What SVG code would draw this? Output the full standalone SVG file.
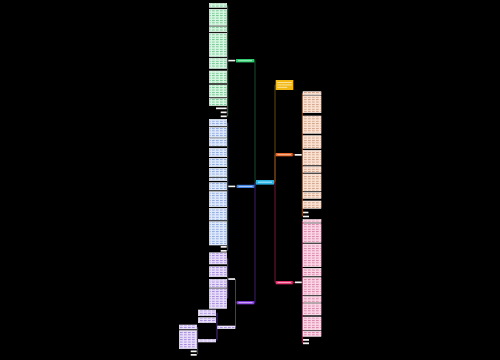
<svg xmlns="http://www.w3.org/2000/svg" width="500" height="360" viewBox="0 0 500 360">
<defs>
<pattern id="pg" width="4" height="2.4" patternUnits="userSpaceOnUse"><rect width="4" height="2.4" fill="#d8f6e2"/><rect y="0.8" width="2.7" height="0.9" fill="#6fc28f"/></pattern>
<pattern id="pb" width="4" height="2.4" patternUnits="userSpaceOnUse"><rect width="4" height="2.4" fill="#dfe9fb"/><rect y="0.8" width="2.7" height="0.9" fill="#8aa6dc"/></pattern>
<pattern id="pp" width="4" height="2.4" patternUnits="userSpaceOnUse"><rect width="4" height="2.4" fill="#e8def9"/><rect y="0.8" width="2.7" height="0.9" fill="#a086da"/></pattern>
<pattern id="po" width="4" height="2.4" patternUnits="userSpaceOnUse"><rect width="4" height="2.4" fill="#f9e2d3"/><rect y="0.8" width="2.7" height="0.9" fill="#cfa085"/></pattern>
<pattern id="pk" width="4" height="2.4" patternUnits="userSpaceOnUse"><rect width="4" height="2.4" fill="#fad5e4"/><rect y="0.8" width="2.7" height="0.9" fill="#d682a6"/></pattern>
</defs>
<style>
.g{fill:url(#pg);stroke:#f2fff6;stroke-width:.6}
.b{fill:url(#pb);stroke:#f4f8ff;stroke-width:.6}
.p{fill:url(#pp);stroke:#f7f2ff;stroke-width:.6}
.o{fill:url(#po);stroke:#fff6f0;stroke-width:.6}
.k{fill:url(#pk);stroke:#fff2f7;stroke-width:.6}
.w{fill:#f2f2f2}
.c{fill:none;stroke-width:.7}
</style>
<rect width="500" height="360" fill="#000"/>
<g id="connectors">
<path class="c" stroke="#1f6e40" d="M256 182H255V60.8H254.3"/>
<path class="c" stroke="#2d5db0" d="M256 182.6H255V186.3H254.3"/>
<path class="c" stroke="#5a2aa0" d="M256 183.2H255V302.6H254.3"/>
<path class="c" stroke="#8a6c12" d="M274 182H275V85H275.7"/>
<path class="c" stroke="#a4481c" d="M274 182.6H275V154.6H275.7"/>
<path class="c" stroke="#a8204f" d="M274 183.2H275V282.6H275.7"/>
<path class="c" stroke="#2fa05a" d="M236 60.6H235M228.3 60.6H227.7M227.7 5.3V116.3"/>
<path class="c" stroke="#3a6cc8" d="M236.7 186.4H235M228.3 186.4H227.7M227.7 122.6V250.8"/>
<path class="c" stroke="#7444c8" d="M236.7 302.6H235.5M235.5 279V327.3M228.3 279H227.7M227.7 258.3V298.5"/>
<path class="c" stroke="#7444c8" d="M217.7 327.3H217M217 312.8V340.6"/>
<path class="c" stroke="#7444c8" d="M198.3 340.6H197.6M197.6 327V354.2"/>
<path class="c" stroke="#c8642c" d="M292.7 154.8H294.7M301.7 154.8H302.3M302.3 93.2V216.5"/>
<path class="c" stroke="#cc3068" d="M292.7 282.6H295M301.7 282.6H302.3M302.3 221V343.3"/>
</g>
<g id="center"><rect x="256" y="180" width="18" height="4.6" fill="#2bb3e6"/><rect x="258" y="181.6" width="14" height="1.2" fill="#9fe0f8"/></g>
<g id="n-green"><rect x="236" y="59" width="18.3" height="3.4" fill="#2ecc6e"/><rect x="238" y="60.2" width="14" height="1" fill="#a8f0c6"/></g>
<g id="n-blue"><rect x="236.7" y="184.8" width="17.6" height="3.2" fill="#3d7fde"/><rect x="238.5" y="185.9" width="14" height="1" fill="#b0ccf5"/></g>
<g id="n-purple"><rect x="236.7" y="301.1" width="17.6" height="3.2" fill="#8a3fe0"/><rect x="238.5" y="302.2" width="14" height="1" fill="#d2b6f7"/></g>
<g id="n-yellow"><rect x="275.7" y="80" width="17.6" height="10" fill="#f2b815"/><rect x="277.2" y="82" width="14.6" height="1" fill="#fbe39a"/><rect x="277.2" y="84.4" width="14.6" height="1" fill="#fbe39a"/><rect x="277.2" y="86.8" width="10" height="1" fill="#fbe39a"/></g>
<g id="n-orange"><rect x="275.7" y="153" width="17" height="3.3" fill="#e5672a"/><rect x="277.5" y="154.2" width="13.4" height="1" fill="#f8bd9c"/></g>
<g id="n-pink"><rect x="275.7" y="281" width="17" height="3.3" fill="#e0306a"/><rect x="277.5" y="282.1" width="13.4" height="1" fill="#f6a8c3"/></g>
<g id="sub-green"><rect class="w" x="228.3" y="59.8" width="6.7" height="1.6"/></g>
<g id="sub-blue"><rect class="w" x="228.3" y="185.6" width="6.7" height="1.6"/></g>
<g id="sub-purple"><rect class="w" x="228.3" y="278.2" width="6.7" height="1.7"/></g>
<g id="sub-orange"><rect class="w" x="294.7" y="154" width="7" height="1.7"/></g>
<g id="sub-pink"><rect class="w" x="295" y="281.5" width="6.7" height="1.7"/></g>
<g id="col-green">
<rect class="g" x="209.3" y="3.3" width="17.4" height="4"/>
<rect class="g" x="209.3" y="9.3" width="17.4" height="16"/>
<rect class="g" x="209.3" y="26.8" width="17.4" height="5"/>
<rect class="g" x="209.3" y="33.3" width="17.4" height="23.4"/>
<rect class="g" x="209.3" y="58.2" width="17.4" height="10.3"/>
<rect class="g" x="209.3" y="71" width="17.4" height="12"/>
<rect class="g" x="209.3" y="85" width="17.4" height="12"/>
<rect class="g" x="209.3" y="98.6" width="17.4" height="7"/>
<rect class="w" x="216" y="107.5" width="10.7" height="1.7"/>
<rect class="w" x="220.7" y="111.5" width="6" height="1.7"/>
<rect class="w" x="220.7" y="115.5" width="6" height="1.7"/>
</g>
<g id="col-blue">
<rect class="b" x="209.3" y="119.3" width="17.4" height="6.7"/>
<rect class="b" x="209.3" y="127.4" width="17.4" height="9.9"/>
<rect class="b" x="209.3" y="138.5" width="17.4" height="7.5"/>
<rect class="b" x="209.3" y="148.3" width="17.4" height="8.4"/>
<rect class="b" x="209.3" y="158.3" width="17.4" height="8.4"/>
<rect class="b" x="209.3" y="168.3" width="17.4" height="8.4"/>
<rect class="b" x="209.3" y="178" width="17.4" height="2.7"/>
<rect class="b" x="209.3" y="182.7" width="17.4" height="7.3"/>
<rect class="b" x="209.3" y="191.7" width="17.4" height="15"/>
<rect class="b" x="209.3" y="208.3" width="17.4" height="11.7"/>
<rect class="b" x="209.3" y="221.7" width="17.4" height="23.3"/>
<rect class="w" x="220.7" y="246" width="6" height="1.7"/>
<rect class="w" x="220.7" y="250" width="6" height="1.7"/>
</g>
<g id="col-purple">
<rect class="p" x="209.3" y="252.8" width="17.4" height="11.2"/>
<rect class="p" x="209.3" y="266.7" width="17.4" height="10"/>
<rect class="p" x="209.3" y="279.3" width="17.4" height="8"/>
<rect class="p" x="209.3" y="288.8" width="17.4" height="19.5"/>
</g>
<g id="n-purple2"><rect class="p" x="217.7" y="326" width="17.3" height="2.7"/></g>
<g id="col-purple2">
<rect class="p" x="198.3" y="310" width="17.4" height="5.7"/>
<rect class="p" x="198.3" y="317.7" width="17.4" height="5"/>
<rect class="p" x="198.3" y="339.3" width="17.4" height="2.7"/>
</g>
<g id="col-purple3">
<rect class="p" x="179.3" y="325" width="17.4" height="4"/>
<rect class="p" x="179.3" y="330.7" width="17.4" height="18"/>
<rect class="w" x="190.7" y="350.5" width="6" height="1.7"/>
<rect class="w" x="190.7" y="354" width="6" height="1.7"/>
</g>
<g id="col-orange">
<rect class="o" x="303" y="91.7" width="18" height="3"/>
<rect class="o" x="303" y="95.8" width="18" height="16.9"/>
<rect class="o" x="303" y="116" width="18" height="17.3"/>
<rect class="o" x="303" y="135.7" width="18" height="12.6"/>
<rect class="o" x="303" y="150.3" width="18" height="14.7"/>
<rect class="o" x="303" y="166.7" width="18" height="5.6"/>
<rect class="o" x="303" y="174" width="18" height="17"/>
<rect class="o" x="303" y="192.4" width="18" height="6"/>
<rect class="o" x="303" y="201" width="18" height="7.3"/>
<rect class="w" x="303" y="211.7" width="5.4" height="1.6"/>
<rect class="w" x="303" y="215.7" width="6" height="1.6"/>
</g>
<g id="col-pink">
<rect class="k" x="303" y="219.5" width="18" height="2.8"/>
<rect class="k" x="303" y="223.7" width="18" height="18.6"/>
<rect class="k" x="303" y="244" width="18" height="22.7"/>
<rect class="k" x="303" y="268.3" width="18" height="7.7"/>
<rect class="k" x="303" y="277.7" width="18" height="17.3"/>
<rect class="k" x="303" y="296.4" width="18" height="5.9"/>
<rect class="k" x="303" y="303.7" width="18" height="11.3"/>
<rect class="k" x="303" y="317" width="18" height="13"/>
<rect class="k" x="303" y="331.2" width="18" height="5.1"/>
<rect class="w" x="303" y="339" width="6" height="1.8"/>
<rect class="w" x="303" y="342.4" width="6" height="1.8"/>
</g>
</svg>
